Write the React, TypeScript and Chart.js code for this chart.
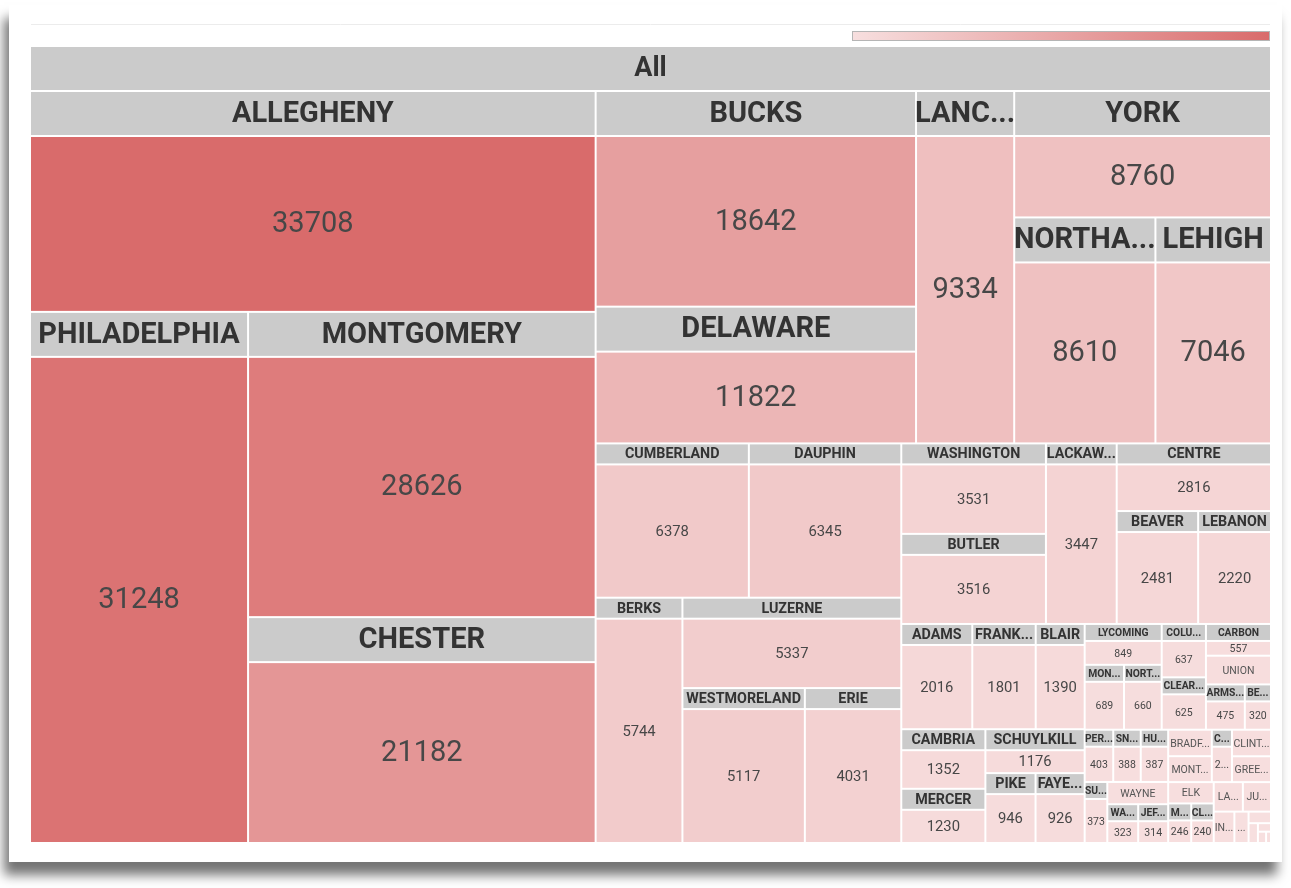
import React, { useEffect, useRef } from "react";
import { Chart, registerables } from "chart.js";

Chart.register(...registerables);

// ---------------- data ----------------
const rootLabel = "All";

const countyNames = [
  "ALLEGHENY", "PHILADELPHIA", "MONTGOMERY", "CHESTER", "BUCKS", "DELAWARE",
  "LANCASTER", "YORK", "NORTHAMPTON", "LEHIGH", "CUMBERLAND", "DAUPHIN",
  "BERKS", "LUZERNE", "WESTMORELAND", "ERIE", "WASHINGTON", "BUTLER",
  "LACKAWANNA", "CENTRE", "BEAVER", "LEBANON", "ADAMS", "FRANKLIN", "BLAIR",
  "CAMBRIA", "MERCER", "SCHUYLKILL", "PIKE", "FAYETTE", "LYCOMING", "MONROE",
  "NORTHUMBERLAND", "COLUMBIA", "CLEARFIELD", "CARBON", "UNION", "ARMSTRONG",
  "BEDFORD", "PERRY", "SNYDER", "HUNTINGDON", "SUSQUEHANNA", "WAYNE", "WARREN",
  "JEFFERSON", "BRADFORD", "MONTOUR", "CRAWFORD", "CLINTON", "GREENE", "ELK",
  "McKEAN", "CLARION", "LAWRENCE", "JUNIATA", "INDIANA", "VENANGO", "FULTON",
  "CAMERON", "FOREST", "POTTER", "SULLIVAN",
];

const countyValues = [
  33708, 31248, 28626, 21182, 18642, 11822,
  9334, 8760, 8610, 7046, 6378, 6345,
  5744, 5337, 5117, 4031, 3531, 3516,
  3447, 2816, 2481, 2220, 2016, 1801, 1390,
  1352, 1230, 1176, 946, 926, 849, 689,
  660, 637, 625, 557, 504, 475,
  320, 403, 388, 387, 373, 365, 323,
  314, 312, 305, 285, 280, 272, 262,
  246, 240, 232, 224, 175, 120, 70,
  50, 30, 25, 15,
];

// value thresholds separating label size tiers
const tierLimits = [7000, 900];

// ---------------- style ----------------
const FONT = "Roboto, 'Open Sans', sans-serif";
const LOW_RGB = [247, 223, 223];
const HIGH_RGB = [217, 107, 107];
const HEADER_BG = "#cbcbcb";
const HEADER_TEXT = "#333333";
const VALUE_TEXT = "#474747";
const GAP = 2;
const ROOT_HEADER = 43;
const ROOT_FONT = 27;
const TIERS = [
  { hdr: 43, hFont: 29, vFont: 29, full: 1.2 },
  { hdr: 19, hFont: 14.3, vFont: 14.8, full: 1.2 },
  { hdr: 15, hFont: 10.3, vFont: 10.5, full: 1.4 },
];

type Rect = { x0: number; y0: number; x1: number; y1: number };

function binaryLayout(values: number[], root: Rect, isWide: (r: Rect) => boolean): Rect[] {
  const n = values.length;
  const sums = [0];
  for (let i = 0; i < n; i++) sums.push(sums[i] + values[i]);
  const out: Rect[] = new Array(n);
  const part = (i: number, j: number, value: number, r: Rect) => {
    if (i >= j - 1) {
      out[i] = r;
      return;
    }
    const target = sums[i] + value / 2;
    let k = i + 1;
    while (k < j - 1 && sums[k + 1] <= target) k++;
    const left = sums[k] - sums[i];
    const right = value - left;
    if (isWide(r)) {
      const xk = r.x0 + ((r.x1 - r.x0) * left) / value;
      part(i, k, left, { x0: r.x0, y0: r.y0, x1: xk, y1: r.y1 });
      part(k, j, right, { x0: xk, y0: r.y0, x1: r.x1, y1: r.y1 });
    } else {
      const yk = r.y0 + ((r.y1 - r.y0) * left) / value;
      part(i, k, left, { x0: r.x0, y0: r.y0, x1: r.x1, y1: yk });
      part(k, j, right, { x0: r.x0, y0: yk, x1: r.x1, y1: r.y1 });
    }
  };
  part(0, n, sums[n], root);
  return out;
}

function colorFor(v: number, min: number, max: number) {
  const t = max > min ? (v - min) / (max - min) : 1;
  const c = LOW_RGB.map((lo, i) => Math.round(lo + (HIGH_RGB[i] - lo) * t));
  return `rgb(${c[0]},${c[1]},${c[2]})`;
}

function fitText(ctx: CanvasRenderingContext2D, text: string, maxW: number) {
  if (maxW <= 0) return "";
  if (ctx.measureText(text).width <= maxW) return text;
  for (let n = text.length - 1; n >= 1; n--) {
    const t = text.slice(0, n) + "...";
    if (ctx.measureText(t).width <= maxW) return t;
  }
  return ctx.measureText("...").width <= maxW ? "..." : "";
}

function tierOf(v: number) {
  if (v >= tierLimits[0]) return TIERS[0];
  if (v >= tierLimits[1]) return TIERS[1];
  return TIERS[2];
}

const treemapPlugin = {
  id: "treemapCells",
  afterDatasetsDraw(chart: any) {
    const { ctx, chartArea, scales } = chart;
    const xs = scales.x;
    const ys = scales.y;
    const X = (v: number) => xs.getPixelForValue(v);
    const Y = (v: number) => ys.getPixelForValue(v);
    const min = Math.min(...countyValues);
    const max = Math.max(...countyValues);

    ctx.save();
    ctx.textAlign = "center";
    ctx.textBaseline = "middle";

    // faint frame line and colour range
    ctx.strokeStyle = "#ececec";
    ctx.lineWidth = 1;
    ctx.beginPath();
    ctx.moveTo(X(0), chartArea.top - 22.5);
    ctx.lineTo(X(1) - GAP, chartArea.top - 22.5);
    ctx.stroke();

    const barR = X(1) - GAP;
    const barL = barR - 418;
    const barT = chartArea.top - 16;
    const grad = ctx.createLinearGradient(barL, 0, barR, 0);
    grad.addColorStop(0, colorFor(min, min, max));
    grad.addColorStop(1, colorFor(max, min, max));
    ctx.fillStyle = grad;
    ctx.fillRect(barL, barT, barR - barL, 10);
    ctx.strokeStyle = "#b5b5b5";
    ctx.strokeRect(barL + 0.5, barT + 0.5, barR - barL - 1, 9);

    // root header
    const rx0 = X(0);
    const rx1 = X(1) - GAP;
    const ry0 = Y(0);
    ctx.fillStyle = HEADER_BG;
    ctx.fillRect(rx0, ry0, rx1 - rx0, ROOT_HEADER);
    ctx.fillStyle = HEADER_TEXT;
    ctx.font = `bold ${ROOT_FONT}px ${FONT}`;
    ctx.fillText(rootLabel, (rx0 + rx1) / 2, ry0 + ROOT_HEADER / 2 + 1);

    const contentTop = ys.getValueForPixel(ry0 + ROOT_HEADER + GAP);
    const rects = binaryLayout(
      countyValues,
      { x0: 0, y0: contentTop, x1: 1, y1: 1 },
      (r) => X(r.x1) - X(r.x0) > Y(r.y1) - Y(r.y0)
    );

    rects.forEach((r, i) => {
      const v = countyValues[i];
      const name = countyNames[i];
      const px0 = X(r.x0);
      const py0 = Y(r.y0);
      const w = X(r.x1) - px0 - GAP;
      const h = Y(r.y1) - py0 - GAP;
      if (w <= 0 || h <= 0) return;
      const tier = tierOf(v);
      const fill = colorFor(v, min, max);
      if (h >= tier.hdr + tier.vFont * tier.full) {
        ctx.fillStyle = HEADER_BG;
        ctx.fillRect(px0, py0, w, tier.hdr);
        ctx.fillStyle = fill;
        ctx.fillRect(px0, py0 + tier.hdr + GAP, w, h - tier.hdr - GAP);
        ctx.font = `bold ${tier.hFont}px ${FONT}`;
        ctx.fillStyle = HEADER_TEXT;
        const label = fitText(ctx, name, w + tier.hFont * 0.15);
        if (label) ctx.fillText(label, px0 + w / 2, py0 + tier.hdr / 2 + 1);
        ctx.font = `${tier.vFont}px ${FONT}`;
        ctx.fillStyle = VALUE_TEXT;
        const txt = fitText(ctx, String(v), w - 1);
        const bodyTop = py0 + tier.hdr + GAP;
        if (txt) ctx.fillText(txt, px0 + w / 2, (bodyTop + py0 + h) / 2 + 1);
      } else {
        ctx.fillStyle = fill;
        ctx.fillRect(px0, py0, w, h);
        ctx.font = `${tier.vFont}px ${FONT}`;
        ctx.fillStyle = "#555555";
        if (h >= tier.vFont) {
          const label = fitText(ctx, name, w);
          if (label) ctx.fillText(label, px0 + w / 2, py0 + h / 2 + 1);
        }
      }
    });
    ctx.restore();
  },
};

export default function App() {
  const ref = useRef<HTMLCanvasElement>(null);
  useEffect(() => {
    document.body.style.margin = "0";
    const chart = new Chart(ref.current as HTMLCanvasElement, {
      type: "scatter",
      data: { datasets: [] },
      options: {
        animation: false,
        responsive: true,
        maintainAspectRatio: false,
        layout: { padding: { left: 31, top: 47, right: 19, bottom: 44 } },
        scales: {
          x: { type: "linear", min: 0, max: 1, display: false },
          y: { type: "linear", min: 0, max: 1, reverse: true, display: false },
        },
        plugins: { legend: { display: false }, tooltip: { enabled: false } },
      },
      plugins: [treemapPlugin],
    } as any);
    return () => chart.destroy();
  }, []);
  return (
    <div style={{ position: "fixed", left: 0, top: 0, width: 1291, height: 888, background: "#fff", overflow: "hidden" }}>
      <div
        style={{
          position: "absolute",
          left: 9,
          top: 5,
          width: 1273,
          height: 857,
          background: "#fff",
          boxShadow: "-5px 13px 11px rgba(0,0,0,0.55)",
        }}
      />
      <div style={{ position: "absolute", left: 0, top: 0, width: 1291, height: 888 }}>
        <canvas ref={ref} />
      </div>
    </div>
  );
}
